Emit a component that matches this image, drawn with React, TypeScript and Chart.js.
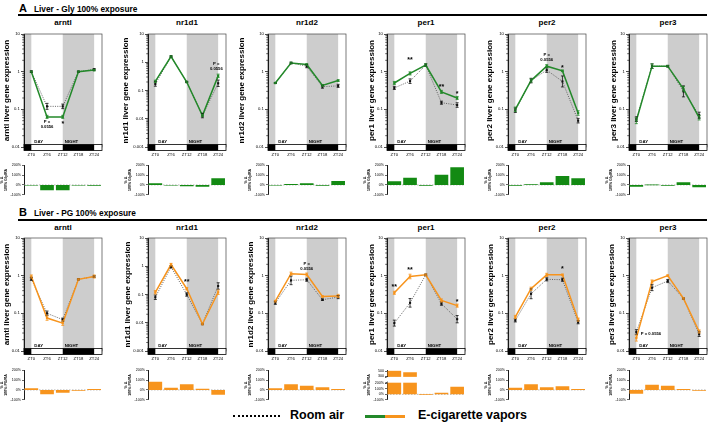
import React, { useEffect, useRef } from "react";
import { Chart, registerables } from "chart.js";
Chart.register(...registerables);

const FONT = "'Liberation Sans', Arial, Helvetica, sans-serif";
const GREEN = "#23892a";
const GREEN_BAR = "#138a13";
const ORANGE = "#f7941d";
const SHADE = "#cdcdcd";

// ---------- data ----------
const ZT_HOURS = [0, 6, 12, 18, 24];
const GENES = ["arntl", "nr1d1", "nr1d2", "per1", "per2", "per3"];

// Row A: Liver - Gly 100% exposure (relative expression)
const glyRoom_arntl = [1.0, 0.12, 0.12, 1.0, 1.15];
const glyVap_arntl = [1.0, 0.063, 0.063, 1.0, 1.1];
const glyRoom_nr1d1 = [0.17, 1.6, 0.2, 0.013, 0.18];
const glyVap_nr1d1 = [0.21, 1.6, 0.2, 0.013, 0.33];
const glyRoom_nr1d2 = [0.5, 1.7, 1.4, 0.4, 0.42];
const glyVap_nr1d2 = [0.5, 1.7, 1.55, 0.43, 0.58];
const glyRoom_per1 = [0.37, 0.56, 1.5, 0.15, 0.13];
const glyVap_per1 = [0.5, 0.9, 1.5, 0.29, 0.2];
const glyRoom_per2 = [0.095, 0.58, 1.1, 0.55, 0.05];
const glyVap_per2 = [0.1, 0.58, 1.4, 1.05, 0.08];
const glyRoom_per3 = [0.055, 1.4, 1.4, 0.3, 0.07];
const glyVap_per3 = [0.05, 1.4, 1.4, 0.35, 0.06];

// Row A: relative error (SEM as fraction of value)
const glyRoomErr_arntl = [0.05, 0.2, 0.15, 0.03, 0.05];
const glyVapErr_arntl = [0.03, 0.1, 0.1, 0.03, 0.05];
const glyRoomErr_nr1d1 = [0.2, 0.05, 0.05, 0.2, 0.3];
const glyVapErr_nr1d1 = [0.1, 0.05, 0.05, 0.1, 0.15];
const glyRoomErr_nr1d2 = [0.03, 0.05, 0.1, 0.1, 0.1];
const glyVapErr_nr1d2 = [0.03, 0.05, 0.05, 0.05, 0.05];
const glyRoomErr_per1 = [0.1, 0.15, 0.08, 0.1, 0.15];
const glyVapErr_per1 = [0.1, 0.1, 0.08, 0.1, 0.1];
const glyRoomErr_per2 = [0.15, 0.15, 0.15, 0.4, 0.15];
const glyVapErr_per2 = [0.15, 0.1, 0.1, 0.05, 0.15];
const glyRoomErr_per3 = [0.15, 0.15, 0.05, 0.4, 0.2];
const glyVapErr_per3 = [0.2, 0.15, 0.05, 0.15, 0.15];

// Row A: % change vs room air
const glyPct_arntl = [-3, -50, -50, -3, -5];
const glyPct_nr1d1 = [15, -3, -10, -15, 65];
const glyPct_nr1d2 = [-3, 5, 15, -5, 37];
const glyPct_per1 = [33, 70, -5, 100, 175];
const glyPct_per2 = [-5, 3, 25, 88, 65];
const glyPct_per3 = [-15, 0, -5, 25, -20];

// Row B: Liver - PG 100% exposure
const pgRoom_arntl = [0.82, 0.1, 0.068, 0.8, 0.95];
const pgVap_arntl = [0.95, 0.075, 0.055, 0.8, 0.95];
const pgRoom_nr1d1 = [0.08, 0.95, 0.1, 0.009, 0.2];
const pgVap_nr1d1 = [0.12, 1.15, 0.16, 0.009, 0.12];
const pgRoom_nr1d2 = [0.19, 0.75, 0.78, 0.23, 0.27];
const pgVap_nr1d2 = [0.21, 1.13, 1.07, 0.28, 0.29];
const pgRoom_per1 = [0.055, 0.19, 1.05, 0.18, 0.07];
const pgVap_per1 = [0.35, 0.95, 1.05, 0.22, 0.16];
const pgRoom_per2 = [0.065, 0.33, 0.8, 0.78, 0.058];
const pgVap_per2 = [0.08, 0.45, 1.05, 1.05, 0.068];
const pgRoom_per3 = [0.032, 0.48, 0.72, 0.25, 0.028];
const pgVap_per3 = [0.022, 0.7, 1.0, 0.25, 0.033];

const pgRoomErr_arntl = [0.1, 0.15, 0.1, 0.03, 0.05];
const pgVapErr_arntl = [0.1, 0.15, 0.15, 0.03, 0.1];
const pgRoomErr_nr1d1 = [0.2, 0.1, 0.15, 0.05, 0.3];
const pgVapErr_nr1d1 = [0.15, 0.1, 0.1, 0.05, 0.2];
const pgRoomErr_nr1d2 = [0.1, 0.3, 0.1, 0.05, 0.1];
const pgVapErr_nr1d2 = [0.05, 0.1, 0.1, 0.05, 0.1];
const pgRoomErr_per1 = [0.2, 0.3, 0.05, 0.1, 0.25];
const pgVapErr_per1 = [0.1, 0.15, 0.05, 0.1, 0.1];
const pgRoomErr_per2 = [0.1, 0.35, 0.1, 0.1, 0.1];
const pgVapErr_per2 = [0.1, 0.1, 0.1, 0.05, 0.1];
const pgRoomErr_per3 = [0.15, 0.2, 0.1, 0.05, 0.15];
const pgVapErr_per3 = [0.2, 0.1, 0.05, 0.05, 0.1];

const pgPct_arntl = [15, -40, -25, -5, 5];
const pgPct_nr1d1 = [80, 20, 55, 10, -45];
const pgPct_nr1d2 = [15, 55, 40, 25, 5];
const pgPct_per1 = [520, 450, -5, 25, 130];
const pgPct_per2 = [20, 55, 25, 35, 5];
const pgPct_per3 = [-35, 50, 40, 5, -5];

// significance annotations (hour, value, text)
type Note = { h: number; v: number; t: string };
const glyNotes_arntl: Note[] = [{ h: 6, v: 0.039, t: "P =\n0.0556" }, { h: 12, v: 0.045, t: "*" }];
const glyNotes_nr1d1: Note[] = [{ h: 23.3, v: 0.74, t: "P =\n0.0556" }];
const glyNotes_nr1d2: Note[] = [];
const glyNotes_per1: Note[] = [{ h: 6, v: 2.3, t: "**" }, { h: 18, v: 0.45, t: "**" }, { h: 24, v: 0.29, t: "*" }];
const glyNotes_per2: Note[] = [{ h: 12, v: 2.45, t: "P =\n0.0556" }, { h: 18, v: 1.45, t: "*" }];
const glyNotes_per3: Note[] = [];
const pgNotes_arntl: Note[] = [];
const pgNotes_nr1d1: Note[] = [{ h: 12, v: 0.32, t: "**" }];
const pgNotes_nr1d2: Note[] = [{ h: 12, v: 1.8, t: "P =\n0.0556" }];
const pgNotes_per1: Note[] = [{ h: 0, v: 0.55, t: "**" }, { h: 6, v: 1.65, t: "**" }, { h: 24, v: 0.23, t: "*" }];
const pgNotes_per2: Note[] = [{ h: 18, v: 1.75, t: "*" }];
const pgNotes_per3: Note[] = [{ h: 5.6, v: 0.028, t: "P = 0.0556" }];

// ---------- layout ----------
const X_MIN = -2.8;
const X_MAX = 27;
const PLOT_L = [24, 148, 268, 387, 508, 629];
const PLOT_W = 78;
const PLOT_TOP = [34, 238];
const PLOT_H = 113;
const BAR_TOP = [165, 370];
const BAR_H = 30;
const YW = 32;
const TITLE_OFF = [
  [17, 22, 26.5, 15, 18, 15.5],
  [17, 20.5, 17, 15.5, 17, 17],
];

const ROWS = [
  {
    key: "A",
    title: "Liver - Gly 100% exposure",
    color: GREEN,
    barColor: GREEN_BAR,
    barLabel: "100% Gly/RA",
    room: [glyRoom_arntl, glyRoom_nr1d1, glyRoom_nr1d2, glyRoom_per1, glyRoom_per2, glyRoom_per3],
    vap: [glyVap_arntl, glyVap_nr1d1, glyVap_nr1d2, glyVap_per1, glyVap_per2, glyVap_per3],
    roomErr: [glyRoomErr_arntl, glyRoomErr_nr1d1, glyRoomErr_nr1d2, glyRoomErr_per1, glyRoomErr_per2, glyRoomErr_per3],
    vapErr: [glyVapErr_arntl, glyVapErr_nr1d1, glyVapErr_nr1d2, glyVapErr_per1, glyVapErr_per2, glyVapErr_per3],
    pct: [glyPct_arntl, glyPct_nr1d1, glyPct_nr1d2, glyPct_per1, glyPct_per2, glyPct_per3],
    notes: [glyNotes_arntl, glyNotes_nr1d1, glyNotes_nr1d2, glyNotes_per1, glyNotes_per2, glyNotes_per3],
  },
  {
    key: "B",
    title: "Liver - PG 100% exposure",
    color: ORANGE,
    barColor: ORANGE,
    barLabel: "100% PG/RA",
    room: [pgRoom_arntl, pgRoom_nr1d1, pgRoom_nr1d2, pgRoom_per1, pgRoom_per2, pgRoom_per3],
    vap: [pgVap_arntl, pgVap_nr1d1, pgVap_nr1d2, pgVap_per1, pgVap_per2, pgVap_per3],
    roomErr: [pgRoomErr_arntl, pgRoomErr_nr1d1, pgRoomErr_nr1d2, pgRoomErr_per1, pgRoomErr_per2, pgRoomErr_per3],
    vapErr: [pgVapErr_arntl, pgVapErr_nr1d1, pgVapErr_nr1d2, pgVapErr_per1, pgVapErr_per2, pgVapErr_per3],
    pct: [pgPct_arntl, pgPct_nr1d1, pgPct_nr1d2, pgPct_per1, pgPct_per2, pgPct_per3],
    notes: [pgNotes_arntl, pgNotes_nr1d1, pgNotes_nr1d2, pgNotes_per1, pgNotes_per2, pgNotes_per3],
  },
];

// broken axis mapping for the PG per1 bar chart
const brk = (v: number) => (v <= 200 ? v : 333 + (v - 300) * 0.42);

function linePlugin(notes: Note[], errs: number[][], errColors: string[]) {
  return {
    id: "lineDeco",
    beforeDraw(chart: any) {
      const { ctx, chartArea: a, scales } = chart;
      const x = scales.x;
      const x0 = x.getPixelForValue(0);
      const x12 = x.getPixelForValue(12);
      const x24 = x.getPixelForValue(24);
      ctx.save();
      ctx.fillStyle = SHADE;
      ctx.fillRect(a.left, a.top, x0 - a.left, a.bottom - a.top);
      ctx.fillRect(x12, a.top, x24 - x12, a.bottom - a.top);
      ctx.restore();
    },
    afterDatasetsDraw(chart: any) {
      const { ctx, scales } = chart;
      const y = scales.y;
      ctx.save();
      ctx.lineWidth = 0.8;
      // draw room air (index 1) first, then vapors (index 0)
      [1, 0].forEach((di) => {
        const meta = chart.getDatasetMeta(di);
        const ds = chart.data.datasets[di];
        ctx.strokeStyle = errColors[di];
        meta.data.forEach((pt: any, i: number) => {
          const v = ds.data[i].y;
          const e = errs[di][i];
          const yTop = y.getPixelForValue(v * (1 + e));
          const yBot = y.getPixelForValue(v / (1 + e));
          const px = pt.x;
          ctx.beginPath();
          ctx.moveTo(px, yTop);
          ctx.lineTo(px, yBot);
          ctx.moveTo(px - 1.5, yTop);
          ctx.lineTo(px + 1.5, yTop);
          ctx.moveTo(px - 1.5, yBot);
          ctx.lineTo(px + 1.5, yBot);
          ctx.stroke();
        });
      });
      ctx.restore();
    },
    afterDraw(chart: any) {
      const { ctx, chartArea: a, scales } = chart;
      const x = scales.x;
      const y = scales.y;
      const x0 = x.getPixelForValue(0);
      const x12 = x.getPixelForValue(12);
      const x24 = x.getPixelForValue(24);
      ctx.save();
      // frame
      ctx.strokeStyle = "#444";
      ctx.lineWidth = 0.7;
      ctx.strokeRect(a.left, a.top, a.right - a.left, a.bottom - a.top);
      // minor log ticks
      ctx.strokeStyle = "#000";
      ctx.lineWidth = 0.6;
      for (let d = y.min; d < y.max * 0.99; d *= 10) {
        for (let m = 2; m <= 9; m++) {
          const py = y.getPixelForValue(d * m);
          ctx.beginPath();
          ctx.moveTo(a.left - 1.8, py);
          ctx.lineTo(a.left, py);
          ctx.stroke();
        }
      }
      // day / night bar
      const by = a.bottom - 2.5;
      const bh = 6;
      ctx.fillStyle = "#fff";
      ctx.fillRect(a.left, by, a.right - a.left, bh);
      ctx.fillStyle = "#000";
      ctx.fillRect(a.left, by, x0 - a.left, bh);
      ctx.fillRect(x12, by, x24 - x12, bh);
      ctx.lineWidth = 0.8;
      ctx.strokeRect(a.left, by, a.right - a.left, bh);
      ctx.font = `bold 4.3px ${FONT}`;
      ctx.textBaseline = "bottom";
      ctx.textAlign = "left";
      ctx.fillText("DAY", x0 + 3, by - 0.3);
      ctx.fillText("NIGHT", x12 + 2, by - 0.3);
      // annotations
      ctx.textAlign = "center";
      ctx.textBaseline = "middle";
      for (const n of notes) {
        const px = x.getPixelForValue(n.h);
        const py = y.getPixelForValue(n.v);
        const stars = /^\*+$/.test(n.t);
        const size = stars ? 7 : 4.2;
        ctx.font = `bold ${size}px ${FONT}`;
        const lines = n.t.split("\n");
        const lh = size * 1.15;
        lines.forEach((ln, i) => {
          const ly = py - ((lines.length - 1) * lh) / 2 + i * lh + (stars ? size * 0.3 : 0);
          ctx.fillText(ln, px, ly);
        });
      }
      ctx.restore();
    },
  };
}

function LinePanel(props: {
  gene: string;
  room: number[];
  vap: number[];
  roomErr: number[];
  vapErr: number[];
  color: string;
  notes: Note[];
  left: number;
  top: number;
  titleOff: number;
  ymin: number;
}) {
  const ref = useRef<HTMLCanvasElement>(null);
  const W = YW + PLOT_W + 4;
  const H = 4 + PLOT_H + 13;
  useEffect(() => {
    const decades: number[] = [];
    for (let d = 10; d >= props.ymin * 0.999; d /= 10) decades.push(parseFloat(d.toPrecision(3)));
    const chart = new Chart(ref.current as HTMLCanvasElement, {
      type: "line",
      data: {
        datasets: [
          {
            data: ZT_HOURS.map((h, i) => ({ x: h, y: props.vap[i] })),
            borderColor: props.color,
            backgroundColor: props.color,
            borderWidth: 1.5,
            pointStyle: "rect",
            pointRadius: 1.6,
            pointBackgroundColor: props.color,
            pointBorderColor: props.color,
            pointBorderWidth: 0,
          },
          {
            data: ZT_HOURS.map((h, i) => ({ x: h, y: props.room[i] })),
            borderColor: "#555",
            borderDash: [1, 1.3],
            borderWidth: 0.9,
            pointStyle: "rect",
            pointRadius: 1.5,
            pointBackgroundColor: "#111",
            pointBorderColor: "#111",
            pointBorderWidth: 0,
          },
        ],
      } as any,
      options: {
        responsive: false,
        animation: false,
        devicePixelRatio: 1,
        layout: { padding: { top: 4, right: 4, left: 0, bottom: 0 } },
        plugins: { legend: { display: false }, tooltip: { enabled: false } },
        scales: {
          x: {
            type: "linear",
            min: X_MIN,
            max: X_MAX,
            offset: false,
            afterBuildTicks: (s: any) => {
              s.ticks = ZT_HOURS.map((v) => ({ value: v }));
            },
            ticks: {
              callback: (v: any) => "ZT" + v,
              font: { size: 4.2, family: FONT },
              color: "#000",
              padding: 5,
              maxRotation: 0,
              autoSkip: false,
            },
            grid: { display: false, drawTicks: false },
            border: { display: false },
            afterFit: (s: any) => {
              s.height = 13;
            },
          },
          y: {
            type: "logarithmic",
            min: props.ymin,
            max: 10,
            afterBuildTicks: (s: any) => {
              s.ticks = decades.map((v) => ({ value: v }));
            },
            ticks: {
              callback: (v: any) => String(v),
              font: { size: 4.2, family: FONT },
              color: "#000",
              padding: 1.2,
              autoSkip: false,
            },
            grid: { display: true, drawOnChartArea: false, drawTicks: true, tickLength: 3, color: "#000", lineWidth: 0.7 },
            border: { display: true, color: "#000", width: 1 },
            title: {
              display: true,
              text: `${props.gene} liver gene expression`,
              font: { size: 8, weight: "bold", family: FONT },
              color: "#000",
              padding: { top: YW - props.titleOff - 4.8, bottom: 0 },
            },
            afterFit: (s: any) => {
              s.width = YW;
            },
          },
        },
      } as any,
      plugins: [linePlugin(props.notes, [props.vapErr, props.roomErr], [props.color, "#111"])],
    });
    return () => chart.destroy();
  }, []);
  return (
    <canvas
      ref={ref}
      width={W}
      height={H}
      style={{ position: "absolute", left: props.left - YW, top: props.top - 4, width: W, height: H }}
    />
  );
}

function BarPanel(props: { pct: number[]; color: string; label: string; left: number; top: number; broken: boolean }) {
  const ref = useRef<HTMLCanvasElement>(null);
  const W = YW + PLOT_W + 4;
  const H = BAR_H + 6;
  useEffect(() => {
    const broken = props.broken;
    const tickVals = broken ? [-100, 0, 100, 200, brk(300), brk(500)] : [-100, 0, 100, 200];
    const chart = new Chart(ref.current as HTMLCanvasElement, {
      type: "bar",
      data: {
        datasets: [
          {
            data: ZT_HOURS.map((h, i) => ({ x: h, y: broken ? brk(props.pct[i]) : props.pct[i] })),
            backgroundColor: props.color,
            borderWidth: 0,
            barThickness: 13,
          },
        ],
      } as any,
      options: {
        responsive: false,
        animation: false,
        devicePixelRatio: 1,
        layout: { padding: { top: 3, right: 4, left: 0, bottom: 3 } },
        plugins: { legend: { display: false }, tooltip: { enabled: false } },
        scales: {
          x: { type: "linear", min: X_MIN, max: X_MAX, offset: false, display: false },
          y: {
            min: -100,
            max: broken ? 440 : 200,
            afterBuildTicks: (s: any) => {
              s.ticks = tickVals.map((v) => ({ value: v }));
            },
            ticks: {
              callback: (v: any) => {
                if (broken && Math.abs(v - brk(300)) < 0.01) return "300";
                if (broken && Math.abs(v - brk(500)) < 0.01) return "500";
                return v + "%";
              },
              font: { size: 3.6, family: FONT },
              color: "#000",
              padding: 1,
              autoSkip: false,
            },
            grid: { display: true, drawOnChartArea: false, drawTicks: true, tickLength: 2, color: "#000", lineWidth: 0.6 },
            border: { display: true, color: "#000", width: 0.9 },
            title: {
              display: true,
              text: ["% Δ", props.label],
              font: { size: 3.6, weight: "bold", family: FONT },
              color: "#000",
              padding: { top: 8, bottom: 0 },
            },
            afterFit: (s: any) => {
              s.width = YW;
            },
          },
        },
      } as any,
      plugins: [
        {
          id: "barDeco",
          beforeDatasetsDraw(chart: any) {
            const { ctx, chartArea: a, scales } = chart;
            const py = scales.y.getPixelForValue(0);
            ctx.save();
            ctx.strokeStyle = "#999";
            ctx.lineWidth = 0.7;
            ctx.setLineDash([1.5, 1.5]);
            ctx.beginPath();
            ctx.moveTo(a.left, py);
            ctx.lineTo(a.right, py);
            ctx.stroke();
            ctx.restore();
          },
          afterDraw(chart: any) {
            if (!broken) return;
            const { ctx, chartArea: a, scales } = chart;
            const y1 = scales.y.getPixelForValue(212);
            const y2 = scales.y.getPixelForValue(318);
            ctx.save();
            ctx.fillStyle = "#fff";
            ctx.fillRect(a.left - 1, y2, a.right - a.left + 1, y1 - y2);
            ctx.strokeStyle = "#000";
            ctx.lineWidth = 0.7;
            ctx.beginPath();
            ctx.moveTo(a.left - 2, y1 + 0.5);
            ctx.lineTo(a.left + 1, y1 - 0.8);
            ctx.moveTo(a.left - 2, y2 + 0.8);
            ctx.lineTo(a.left + 1, y2 - 0.5);
            ctx.stroke();
            ctx.restore();
          },
        },
      ],
    });
    return () => chart.destroy();
  }, []);
  return (
    <canvas
      ref={ref}
      width={W}
      height={H}
      style={{ position: "absolute", left: props.left - YW, top: props.top - 3, width: W, height: H }}
    />
  );
}

export default function App() {
  const headerTop = [2, 206];
  const ruleTop = [14, 219];
  const titleMid = [23, 228];
  return (
    <div
      style={{
        position: "absolute",
        left: 0,
        top: 0,
        width: 709,
        height: 425,
        background: "#fff",
        overflow: "hidden",
        fontFamily: FONT,
        color: "#000",
      }}
    >
      {ROWS.map((row, r) => (
        <React.Fragment key={row.key}>
          <div style={{ position: "absolute", left: 19, top: headerTop[r], fontSize: 11, fontWeight: "bold", lineHeight: "12px" }}>
            {row.key}
          </div>
          <div style={{ position: "absolute", left: 34, top: headerTop[r] + 2, fontSize: 8.3, fontWeight: "bold", lineHeight: "10px" }}>
            {row.title}
          </div>
          <div style={{ position: "absolute", left: 18, top: ruleTop[r], width: 689, height: 1.6, background: "#000" }} />
          {GENES.map((g, i) => (
            <React.Fragment key={g}>
              <div
                style={{
                  position: "absolute",
                  left: PLOT_L[i],
                  width: PLOT_W,
                  top: titleMid[r] - 5,
                  textAlign: "center",
                  fontSize: 8,
                  fontWeight: "bold",
                  lineHeight: "10px",
                }}
              >
                {g}
              </div>
              <LinePanel
                gene={g}
                room={row.room[i]}
                vap={row.vap[i]}
                roomErr={row.roomErr[i]}
                vapErr={row.vapErr[i]}
                color={row.color}
                notes={row.notes[i]}
                left={PLOT_L[i]}
                top={PLOT_TOP[r]}
                titleOff={TITLE_OFF[r][i]}
                ymin={g === "nr1d1" ? 0.001 : 0.01}
              />
              <BarPanel
                pct={row.pct[i]}
                color={row.barColor}
                label={row.barLabel}
                left={PLOT_L[i]}
                top={BAR_TOP[r]}
                broken={r === 1 && g === "per1"}
              />
            </React.Fragment>
          ))}
        </React.Fragment>
      ))}
      {/* legend */}
      <div style={{ position: "absolute", left: 233, top: 415, width: 47, height: 0, borderTop: "2px dotted #000" }} />
      <div style={{ position: "absolute", left: 290, top: 408, fontSize: 12.5, fontWeight: "bold", lineHeight: "15px" }}>Room air</div>
      <div style={{ position: "absolute", left: 365, top: 415, width: 20, height: 2.5, background: GREEN }} />
      <div style={{ position: "absolute", left: 385, top: 415, width: 20, height: 2.5, background: ORANGE }} />
      <div style={{ position: "absolute", left: 418, top: 408, fontSize: 12.5, fontWeight: "bold", lineHeight: "15px" }}>
        E-cigarette vapors
      </div>
    </div>
  );
}
